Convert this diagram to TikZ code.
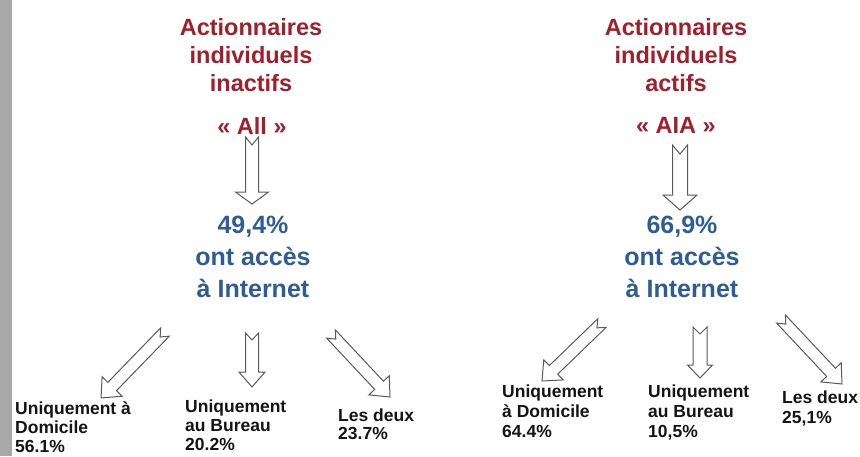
\documentclass[tikz,border=0pt]{standalone}
\usepackage{fontspec}
\setmainfont{Liberation Sans}
\usetikzlibrary{calc}
\definecolor{tred}{HTML}{A11F2B}
\definecolor{tblue}{HTML}{2E5D96}
\definecolor{tblack}{HTML}{141414}
\definecolor{stripgray}{HTML}{A8A8A8}
\definecolor{arrgray}{HTML}{5A5A5A}
\tikzset{
  title/.style={font=\fontsize{23.5}{28}\selectfont\bfseries, text=tred, align=center, inner sep=0pt},
  pct/.style={font=\fontsize{25}{32}\selectfont\bfseries, text=tblue, align=center, inner sep=0pt},
  lab/.style={font=\fontsize{17.5}{19}\selectfont\bfseries, text=tblack, align=left, inner sep=0pt, anchor=north west},
  blockarrow/.style={draw=arrgray, fill=white, line width=1pt, line join=miter}
}
\newcommand\blockarr[6]{%
  \path let \p1=(#1), \p2=(#2) in \pgfextra{%
    \pgfmathsetmacro\myTmpAng{atan2(\y2-\y1,\x2-\x1)}%
    \pgfmathsetmacro\myTmpLen{veclen(\x2-\x1,\y2-\y1)}%
    \xdef\myArrAng{\myTmpAng}\xdef\myArrLen{\myTmpLen}};
  \begin{scope}[shift={(#1)},rotate=\myArrAng]
    \draw[blockarrow] (0pt,#3pt) -- ({\myArrLen pt-#5pt},#3pt) -- ({\myArrLen pt-#5pt},#4pt)
      -- (\myArrLen pt,0pt) -- ({\myArrLen pt-#5pt},-#4pt) -- ({\myArrLen pt-#5pt},-#3pt)
      -- (0pt,-#3pt) -- (#6pt,0pt) -- cycle;
  \end{scope}}
\begin{document}
\begin{tikzpicture}[x=1pt,y=-1pt]
\useasboundingbox (0,0) rectangle (860,456);
\fill[white] (0,0) rectangle (860,456);
\fill[stripgray] (0,0) rectangle (12,456);

% left group
\node[title, anchor=north] (tl) at (251,18) {Actionnaires\\individuels\\inactifs};
\node[title, anchor=north] (al) at (252,117) {« All »};
\node[pct, anchor=north] (pl) at (253,216) {49,4\%\\ont accès\\à Internet};
\node[lab] (l1) at (15,401) {Uniquement à\\Domicile\\56.1\%};
\node[lab] (l2) at (185,400) {Uniquement\\au Bureau\\20.2\%};
\node[lab, font=\fontsize{17.5}{18}\selectfont\bfseries] (l3) at (338,409) {Les deux\\23.7\%};

% right group
\node[title, anchor=north] (tr) at (676,18) {Actionnaires\\individuels\\actifs};
\node[title, anchor=north] (ar) at (676,117) {« AIA »};
\node[pct, anchor=north] (pr) at (682,216) {66,9\%\\ont accès\\à Internet};
\node[lab, font=\fontsize{17.5}{20}\selectfont\bfseries] (r1) at (502,385) {Uniquement\\à Domicile\\64.4\%};
\node[lab, font=\fontsize{17.5}{20}\selectfont\bfseries] (r2) at (648,385) {Uniquement\\au Bureau\\10,5\%};
\node[lab, font=\fontsize{17.5}{20}\selectfont\bfseries] (r3) at (782,391) {Les deux\\25,1\%};

% arrow end points
\coordinate (ta) at (252,137); \coordinate (pa) at (252,204);
\coordinate (tb) at (680,145); \coordinate (pb) at (680,210);
\coordinate (ta1) at (165,332); \coordinate (pa1) at (101,398);
\coordinate (ta2) at (252,333); \coordinate (pa2) at (252,387);
\coordinate (ta3) at (331,334); \coordinate (pa3) at (390,397);
\coordinate (tb1) at (602,323); \coordinate (pb1) at (542,381);
\coordinate (tb2) at (700,327); \coordinate (pb2) at (700,378);
\coordinate (tb3) at (781,319); \coordinate (pb3) at (842,384);

\blockarr{ta}{pa}{6.5}{16.5}{12}{8}
\blockarr{tb}{pb}{7.5}{17}{15}{9}
\blockarr{ta1}{pa1}{6}{14}{16}{7}
\blockarr{ta2}{pa2}{6.5}{13}{15}{7}
\blockarr{ta3}{pa3}{6}{14}{16}{7}
\blockarr{tb1}{pb1}{6}{14}{16}{7}
\blockarr{tb2}{pb2}{7}{12.5}{13}{7}
\blockarr{tb3}{pb3}{6}{14}{16}{7}
\end{tikzpicture}
\end{document}
